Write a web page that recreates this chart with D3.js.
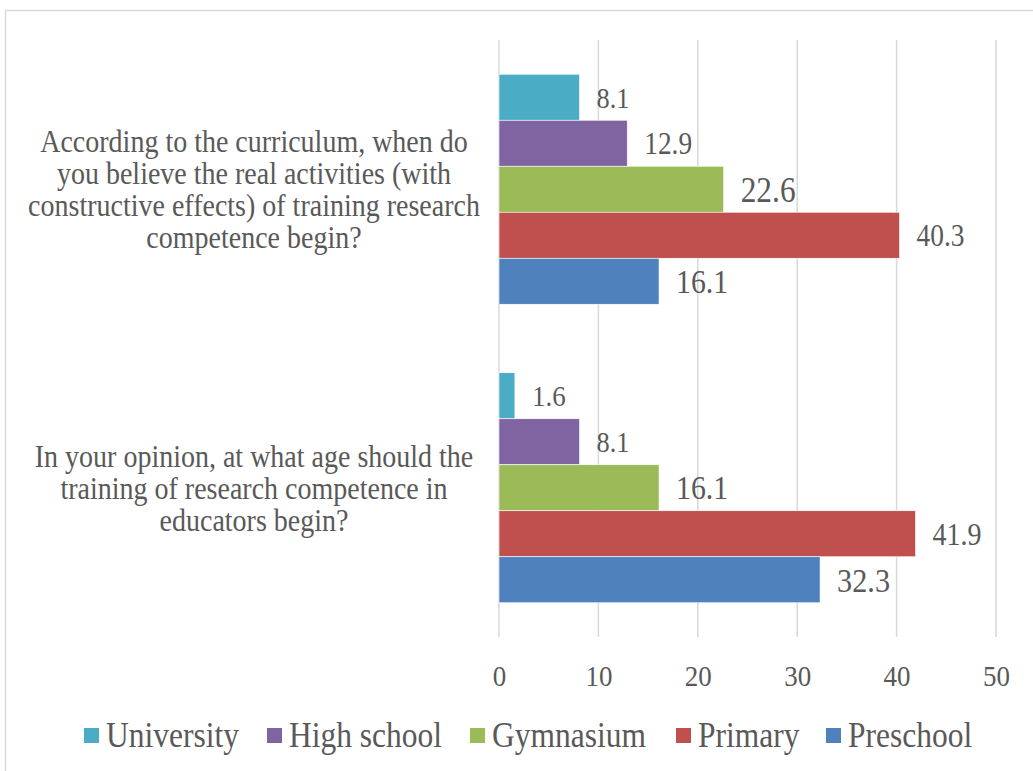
<!DOCTYPE html>
<html>
<head>
<meta charset="utf-8">
<script src="https://cdn.jsdelivr.net/npm/d3@7"></script>
<style>
   html, body { margin: 0; padding: 0; background: #fff; }
   svg text { font-family: "Liberation Serif", "Times New Roman", serif; fill: #595959; }
</style>
</head>
<body>
<div id="chart"></div>
<script>

// CHART DATA
var questions = [
   'According to the curriculum, when do you believe the real activities (with constructive effects) of training research competence begin?',
   'In your opinion, at what age should the training of research competence in educators begin?'
];
var questionLines = [
   ['According to the curriculum, when do', 'you believe the real activities (with', 'constructive effects) of training research', 'competence begin?'],
   ['In your opinion, at what age should the', 'training of research competence in', 'educators begin?']
];
var levels = ['University', 'High school', 'Gymnasium', 'Primary', 'Preschool'];
var university = [8.1, 1.6];
var highSchool = [12.9, 8.1];
var gymnasium = [22.6, 16.1];
var primary = [40.3, 41.9];
var preschool = [16.1, 32.3];
var xTicks = [0, 10, 20, 30, 40, 50];

// SETTINGS
var settings = {
   width: 1033,
   height: 771,
   plot: { left: 499, right: 996, top: 40, bottom: 637 },
   colors: ['#4BACC6', '#8064A2', '#9BBB59', '#C0504D', '#4F81BD'],
   grid: '#D9D9D9',
   stretch: 1.12,
   // label font sizes per question, per level (the source renders them unevenly)
   labelSizes: [[26.4, 27.4, 31.4, 27.4, 29.8], [27, 26.4, 29.8, 28, 30.3]]
};

// BUILD ROWS FROM SERIES ARRAYS
var series = [university, highSchool, gymnasium, primary, preschool];
var rows = [];
questions.forEach((q, qi) => {
   levels.forEach((lvl, li) => {
      rows.push({ question: q, level: lvl, value: series[li][qi], color: settings.colors[li], size: settings.labelSizes[qi][li] });
   });
});

function place(x, y) { return 'translate(' + x + ',' + y + ') scale(1,' + settings.stretch + ')'; }

// CANVAS
var canvas = d3.select('#chart').append('svg')
   .attr('width', settings.width)
   .attr('height', settings.height)

// OUTER FRAME
canvas.append('path')
   .attr('d', 'M5.5,' + (settings.height + 5) + 'V10.5H' + (settings.width + 5))
   .attr('fill', 'none')
   .attr('stroke', '#D9D9D9')
   .attr('stroke-width', 1.5)

// X-SCALING
var xScale = d3.scaleLinear()
   .domain([0, 50])
   .range([settings.plot.left, settings.plot.right])

// Y-SCALING -- QUESTION BANDS
var yScale = d3.scaleBand()
   .domain(questions)
   .range([settings.plot.top, settings.plot.bottom])
   .paddingInner(0.2295)
   .paddingOuter(0.1147)

// Y-SCALING -- LEVELS INSIDE A BAND
var yInner = d3.scaleBand()
   .domain(levels)
   .range([0, yScale.bandwidth()])

// GRIDLINES
canvas.append('g')
   .selectAll('line')
   .data(xTicks)
      .enter().append('line')
         .attr('x1', (d) => { return xScale(d) })
         .attr('x2', (d) => { return xScale(d) })
         .attr('y1', settings.plot.top)
         .attr('y2', settings.plot.bottom)
         .attr('stroke', settings.grid)
         .attr('stroke-width', 1.5)

// X AXIS
var xAxis = canvas.append('g')
   .attr('transform', 'translate(0,' + settings.plot.bottom + ')')
   .call(d3.axisBottom(xScale).tickValues(xTicks).tickSize(0))
xAxis.select('.domain').remove()
xAxis.selectAll('text')
   .attr('y', 0)
   .attr('dy', '0.35em')
   .attr('transform', place(0, 38))
   .attr('font-size', 27)
   .attr('fill', '#595959')
   .style('font-family', '"Liberation Serif", serif')

// BARS
canvas.append('g')
   .selectAll('rect')
   .data(rows)
      .enter().append('rect')
         .attr('x', xScale(0))
         .attr('y', (d) => { return yScale(d.question) + yInner(d.level) })
         .attr('width', (d) => { return xScale(d.value) - xScale(0) })
         .attr('height', yInner.bandwidth())
         .attr('fill', (d) => { return d.color })
         .attr('stroke', '#fff')
         .attr('stroke-width', 0.6)

// VALUE LABELS
canvas.append('g')
   .selectAll('text')
   .data(rows)
      .enter().append('text')
         .attr('transform', (d) => { return place(xScale(d.value) + 17, yScale(d.question) + yInner(d.level) + yInner.bandwidth() / 2) })
         .attr('dy', '0.35em')
         .attr('font-size', (d) => { return d.size })
         .text((d) => { return d.value.toFixed(1) })

// CATEGORY LABELS
var cats = canvas.append('g')
   .selectAll('text')
   .data(questions)
      .enter().append('text')
         .attr('text-anchor', 'middle')
         .attr('font-size', 28)
         .attr('transform', (q) => { return place(254, yScale(q) + yScale.bandwidth() / 2) })

cats.each(function (q, qi) {
   var lines = questionLines[qi];
   var lh = 32 / settings.stretch;
   d3.select(this).selectAll('tspan')
      .data(lines)
         .enter().append('tspan')
            .attr('x', 0)
            .attr('y', (d, i) => { return (i - (lines.length - 1) / 2) * lh })
            .attr('dy', '0.35em')
            .text((d) => { return d })
});

// LEGEND
var legend = canvas.append('g')
   .attr('transform', 'translate(0,735)')
var legendX = [84, 267, 470, 676, 826];
var item = legend.selectAll('g')
   .data(levels)
      .enter().append('g')
         .attr('transform', (d, i) => { return 'translate(' + legendX[i] + ',0)' })
item.append('rect')
   .attr('x', 0)
   .attr('y', -7)
   .attr('width', 15)
   .attr('height', 15)
   .attr('fill', (d, i) => { return settings.colors[i] })
item.append('text')
   .attr('transform', place(22, 0))
   .attr('dy', '0.35em')
   .attr('font-size', 31.5)
   .text((d) => { return d })

</script>
</body>
</html>
